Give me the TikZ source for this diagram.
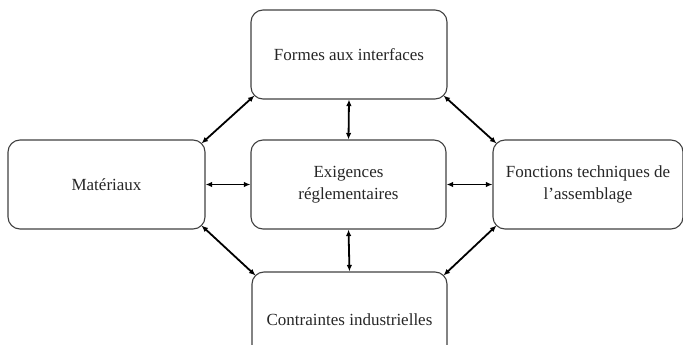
\documentclass[tikz,border=0pt]{standalone}
\usepackage{fontspec}
\setmainfont{Liberation Serif}
\usetikzlibrary{arrows.meta,calc}
\begin{document}
\begin{tikzpicture}[x=1pt,y=-1pt,
  box/.style={draw=black!75, line width=1.1pt, rounded corners=12pt, minimum height=89pt,
    inner sep=0pt, align=center, text=black!85,
    font=\fontsize{17}{22}\selectfont},
  link/.style={line width=1.8pt, {Latex[length=6.5pt,width=5.5pt]}-{Latex[length=6.5pt,width=5.5pt]}}]
\useasboundingbox (0,0) rectangle (683,345);
\clip (0,0) rectangle (683,345);
\node[box, minimum width=196pt] (top) at (349,54.5) {Formes aux interfaces};
\node[box, minimum width=197pt] (left) at (106.5,184.5) {Matériaux};
\node[box, minimum width=195pt] (mid) at (348.5,184.5) {Exigences\\réglementaires};
\node[box, minimum width=190pt] (right) at (588,184.5) {Fonctions techniques de\\l’assemblage};
\node[box, minimum width=195pt, minimum height=96pt] (bot) at (349.5,320) {Contraintes industrielles};
\draw[link] ($(top.south west)+(4,-4)$) -- ($(left.north east)+(-4,4)$);
\draw[link] ($(top.south east)+(-4,-4)$) -- ($(right.north west)+(4,4)$);
\draw[link] ($(left.south east)+(-4,-4)$) -- ($(bot.north west)+(4,4)$);
\draw[link] ($(right.south west)+(4,-4)$) -- ($(bot.north east)+(-4,4)$);
\draw[link] (top.south) -- (mid.north);
\draw[link] (mid.south) -- (bot.north);
\draw[link] (left.east) -- (mid.west);
\draw[link] (mid.east) -- (right.west);
\end{tikzpicture}
\end{document}
